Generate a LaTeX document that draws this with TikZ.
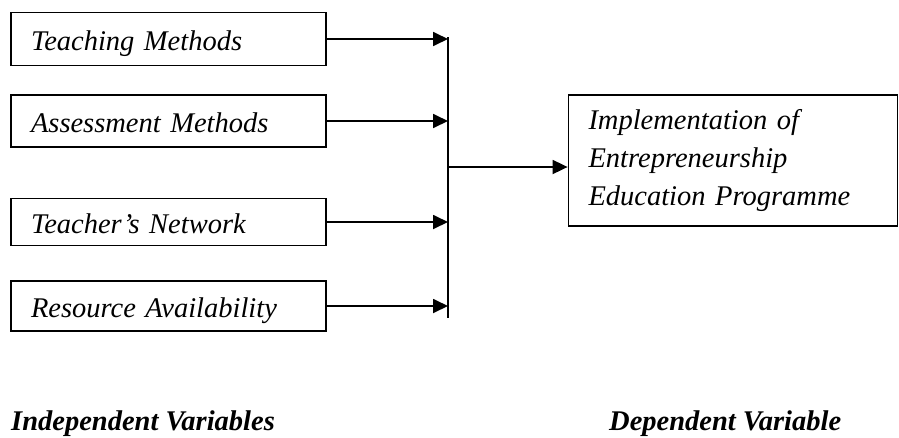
\documentclass[tikz,border=0pt]{standalone}
\usepackage{fontspec}
\setmainfont{Liberation Serif}
\usepackage{tikz}
\usetikzlibrary{positioning,calc,arrows.meta}

\tikzset{
    varbox/.style={rectangle, draw=black, line width=1.8pt, inner xsep=20pt, inner ysep=0pt,
        text width=275pt, minimum height=52pt, align=left,
        font=\fontsize{28.5}{38}\selectfont\itshape, text height=23pt, text depth=0pt},
    link/.style={draw=black, line width=1.8pt},
    arrowlink/.style={link, -{Triangle[length=15pt,width=14pt]}}
}

\begin{document}
\begin{tikzpicture}[
                x=1pt, y=-1pt,
                outcomebox/.style={
                    rectangle,
                    draw=black,
                    line width=1.8pt,
                    inner xsep=20pt,
                    text width=289pt,
                    minimum height=131pt,
                    align=left,
                    font=\fontsize{28.5}{38}\selectfont\itshape
                },
                caption/.style={
                    anchor=base west,
                    inner sep=0pt,
                    font=\fontsize{28.5}{34}\selectfont\bfseries\itshape
                }
            ]
                \useasboundingbox (0,0) rectangle (899,437);
                % Independent variables
                \node[varbox, minimum height=53pt] (teach) at (168.5,39) {Teaching Methods};
                \node[varbox] (assess) at (168.5,121) {Assessment Methods};
                \node[varbox, minimum height=47pt] (network) at (168.5,222) {Teacher’s Network};
                \node[varbox, minimum height=50pt] (resource) at (168.5,306) {Resource Availability};
                % Dependent variable
                \node[outcomebox] (implement) at (733,160.5) {Implementation of\\Entrepreneurship\\Education Programme};
                % Collecting bar
                \coordinate (bartop) at (448,37);
                \coordinate (barbottom) at (448,318);
                \coordinate (junction) at (448,167);
                \draw[link] (bartop) -- (barbottom);
                \foreach \v in {teach,assess,network,resource}
                    \draw[arrowlink] (\v.east) -- (\v.east -| bartop);
                \draw[arrowlink] (junction) -- (junction -| implement.west);
                % Captions
                \node[caption] (indep) at (11,430) {Independent Variables};
                \node[caption] (dep) at (609,430) {Dependent Variable};
            \end{tikzpicture}
\end{document}
